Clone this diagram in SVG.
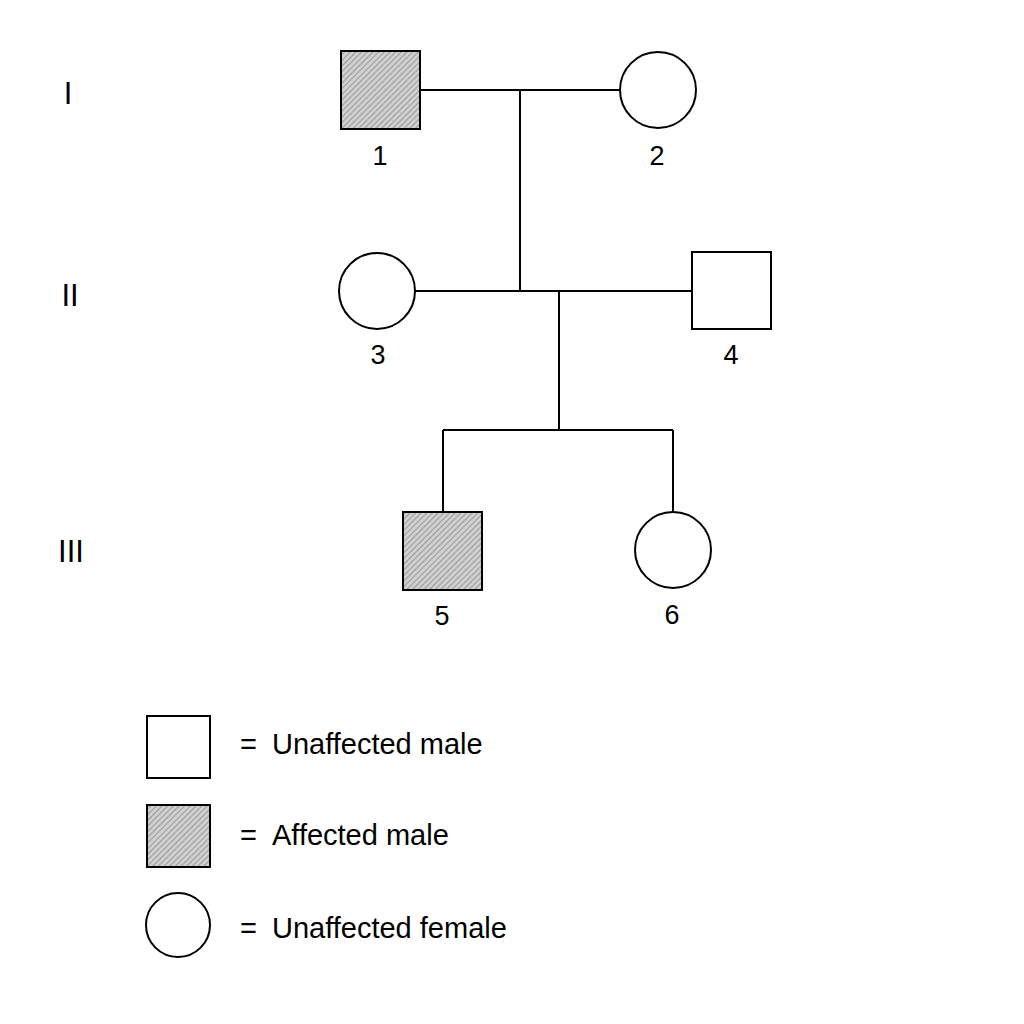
<svg xmlns="http://www.w3.org/2000/svg" width="1024" height="1024" viewBox="0 0 1024 1024">
<defs>
<pattern id="hatch" width="4" height="4" patternUnits="userSpaceOnUse" patternTransform="rotate(45)">
<rect width="4" height="4" fill="#d0d0d0"/>
<line x1="0" y1="0" x2="0" y2="4" stroke="#888" stroke-width="1.6"/>
</pattern>
</defs>
<style>
.s{fill:#fff;stroke:#000;stroke-width:2}
.a{fill:url(#hatch);stroke:#000;stroke-width:2}
.l{stroke:#000;stroke-width:2;fill:none}
text{font-family:"Liberation Sans",Arial,sans-serif;font-size:27px;fill:#000}
.n{text-anchor:middle}
.r{font-size:31px}
.g{font-size:29px}
</style>
<rect width="1024" height="1024" fill="#fff"/>
<text x="68" y="104" class="n r">I</text>
<text x="70" y="306" class="n r">II</text>
<text x="71" y="562" class="n r">III</text>
<g id="connectors">
<path class="l" d="M420 90H620M520 90V291M415 291H692M559 291V430M443 430H673M443 430V512M673 430V512"/>
</g>
<g id="n1"><rect class="a" x="341" y="51" width="79" height="78"/><text x="380" y="165" class="n">1</text></g>
<g id="n2"><circle class="s" cx="658" cy="90" r="38"/><text x="657" y="165" class="n">2</text></g>
<g id="n3"><circle class="s" cx="377" cy="291" r="38"/><text x="378" y="364" class="n">3</text></g>
<g id="n4"><rect class="s" x="692" y="252" width="79" height="77"/><text x="731" y="364" class="n">4</text></g>
<g id="n5"><rect class="a" x="403" y="512" width="79" height="78"/><text x="442" y="625" class="n">5</text></g>
<g id="n6"><circle class="s" cx="673" cy="550" r="38"/><text x="672" y="624" class="n">6</text></g>
<g id="legend">
<rect class="s" x="147" y="716" width="63" height="62"/><text class="g" x="240" y="754">=</text><text class="g" x="272" y="754">Unaffected male</text>
<rect class="a" x="147" y="805" width="63" height="62"/><text class="g" x="240" y="845">=</text><text class="g" x="272" y="845">Affected male</text>
<circle class="s" cx="178" cy="925" r="32"/><text class="g" x="240" y="938">=</text><text class="g" x="272" y="938">Unaffected female</text>
</g>
</svg>
